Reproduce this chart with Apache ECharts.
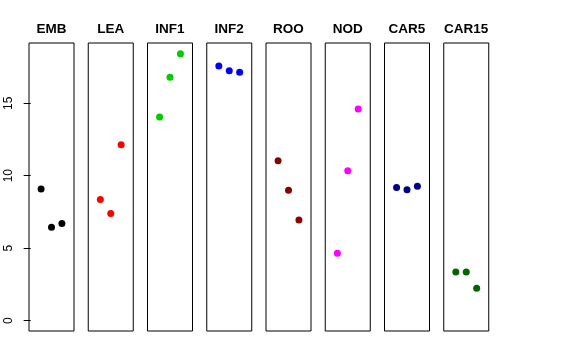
<!DOCTYPE html>
<html>
<head>
<meta charset="utf-8">
<script src="https://cdn.jsdelivr.net/npm/echarts@6/dist/echarts.min.js"></script>
<style>html,body{margin:0;padding:0;background:#fff;}#c{width:576px;height:360px;}</style>
</head>
<body>
<div id="c"></div>
<script>
const categories = ['EMB', 'LEA', 'INF1', 'INF2', 'ROO', 'NOD', 'CAR5', 'CAR15'];
const EMB = [9.09, 6.45, 6.70];
const LEA = [8.36, 7.39, 12.14];
const INF1 = [14.05, 16.79, 18.42];
const INF2 = [17.57, 17.25, 17.14];
const ROO = [11.03, 9.00, 6.95];
const NOD = [4.65, 10.34, 14.60];
const CAR5 = [9.19, 9.03, 9.28];
const CAR15 = [3.36, 3.36, 2.23];
const seriesValues = [EMB, LEA, INF1, INF2, ROO, NOD, CAR5, CAR15];
const colors = ['#000000', '#FF0000', '#00CD00', '#0000FF', '#8B0000', '#FF00FF', '#00008B', '#006400'];
const yTicks = [0, 5, 10, 15];

const chart = echarts.init(document.getElementById('c'), null, {renderer: 'canvas'});
const grids = [], xAxes = [], yAxes = [], series = [], titles = [];
const left0 = 29, step = 59.25, panelW = 45, panelTop = 43, panelH = 288;
categories.forEach((name, i) => {
  const l = left0 + step * i;
  grids.push({left: l, top: panelTop, width: panelW, height: panelH, show: true, borderColor: '#000', borderWidth: 1, backgroundColor: 'transparent'});
  xAxes.push({gridIndex: i, type: 'value', min: -0.16, max: 4.16, show: false});
  yAxes.push({
    gridIndex: i, type: 'value', min: -0.72, max: 19.16,
    show: i === 0,
    splitLine: {show: false},
    axisLine: {show: false},
    axisTick: {show: i === 0, length: 7, customValues: yTicks, lineStyle: {color: '#000'}},
    axisLabel: {show: i === 0, customValues: yTicks, rotate: 90, margin: 14, color: '#000', fontSize: 12, fontFamily: 'Liberation Sans'}
  });
  series.push({
    type: 'scatter', xAxisIndex: i, yAxisIndex: i,
    symbol: 'circle', symbolSize: 7,
    itemStyle: {color: colors[i], opacity: 1},
    data: seriesValues[i].map((v, k) => [k + 1, v]),
    animation: false
  });
  titles.push({text: name, left: l + panelW / 2, top: 22, textAlign: 'center', padding: 0,
    textStyle: {fontSize: 13.5, fontWeight: 'bold', color: '#000', fontFamily: 'Liberation Sans'}});
});
chart.setOption({
  backgroundColor: '#fff',
  animation: false,
  title: titles,
  grid: grids,
  xAxis: xAxes,
  yAxis: yAxes,
  series: series
});
</script>
</body>
</html>
